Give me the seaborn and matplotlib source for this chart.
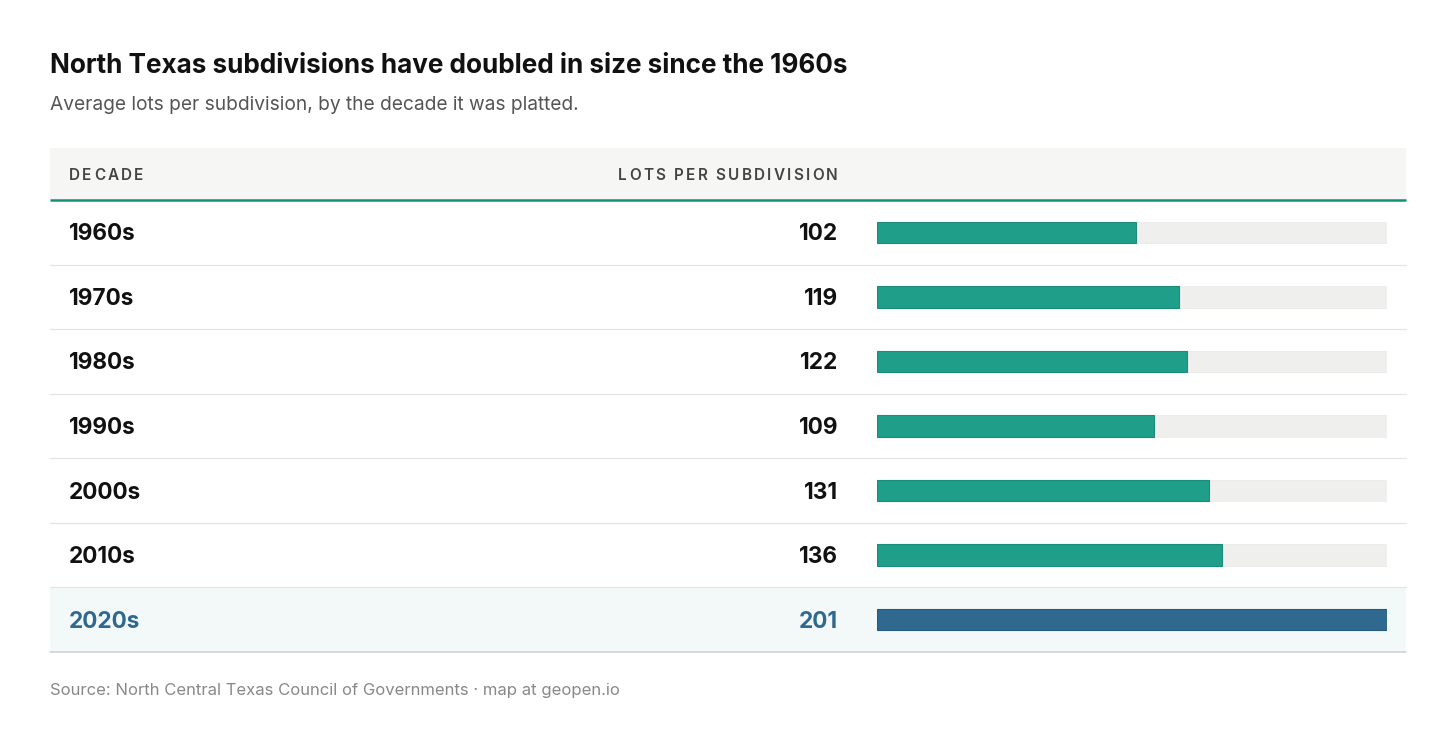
import matplotlib
matplotlib.use("Agg")
import matplotlib.pyplot as plt
import seaborn as sns
import pandas as pd
from matplotlib.patches import Rectangle
from matplotlib.font_manager import FontProperties

# Data
decades = ["1960s", "1970s", "1980s", "1990s", "2000s", "2010s", "2020s"]
lots = [102, 119, 122, 109, 131, 136, 201]
highlight = "2020s"

title = "North Texas subdivisions have doubled in size since the 1960s"
subtitle = "Average lots per subdivision, by the decade it was platted."
source = "Source: North Central Texas Council of Governments \u00b7 map at geopen.io"
col_headers = ["DECADE", "LOTS PER SUBDIVISION"]

# Colours
teal = "#1f9e89"
teal_edge = "#1a8c79"
blue = "#30698f"
blue_edge = "#245a7e"
track = "#efefed"

sns.set_style("white")
plt.rcParams["font.family"] = ["Inter", "DejaVu Sans"]

W, H = 1456, 738
fig = plt.figure(figsize=(W / 100, H / 100), dpi=100)
fig.patch.set_facecolor("white")

# background axes in pixel coordinates
bg = fig.add_axes([0, 0, 1, 1])
bg.set_xlim(0, W)
bg.set_ylim(H, 0)
bg.axis("off")

left, right = 50, 1406
head_top, head_bot = 148, 200
table_bot = 652
row_h = (table_bot - head_bot) / len(decades)

# header band
bg.add_patch(Rectangle((left, head_top), right - left, head_bot - head_top,
                       facecolor="#f6f6f4", edgecolor="none", zorder=0))
bg.plot([left, right], [head_bot, head_bot], color="#12917a", lw=1.8,
        solid_capstyle="butt", zorder=3)

# highlighted row background
hi = decades.index(highlight)
bg.add_patch(Rectangle((left, head_bot + hi * row_h), right - left, row_h,
                       facecolor="#f3f9f8", edgecolor="none", zorder=0))

# row separators
for i in range(1, len(decades)):
    y = head_bot + i * row_h
    bg.plot([left, right], [y, y], color="#e4e4e4", lw=0.9, zorder=2)
bg.plot([left, right], [table_bot, table_bot], color="#d2d4d4", lw=1.2, zorder=2)


def spaced(ax, x, y, s, spacing, ha="left", **kw):
    # draw letter-spaced text one character at a time
    renderer = fig.canvas.get_renderer()
    fp = FontProperties(family=plt.rcParams["font.family"], size=kw.get("fontsize"),
                        weight=kw.get("fontweight"))
    wa, _, _ = renderer.get_text_width_height_descent("aa", fp, ismath=False)
    widths = []
    for ch in s:
        if ch == " ":
            w, _, _ = renderer.get_text_width_height_descent("a a", fp, ismath=False)
            w -= wa
        else:
            w, _, _ = renderer.get_text_width_height_descent(ch, fp, ismath=False)
        widths.append(w)
    total = sum(widths) + spacing * (len(s) - 1)
    cx = x if ha == "left" else x - total
    for ch, w in zip(s, widths):
        ax.text(cx, y, ch, ha="left", va="center", **kw)
        cx += w + spacing


spaced(bg, 69, 175, col_headers[0], 2.3, ha="left", fontsize=11,
       fontweight="semibold", color="#444444")
spaced(bg, 838, 175, col_headers[1], 2.3, ha="right", fontsize=11,
       fontweight="semibold", color="#444444")

# titles
bg.text(50, 66, title, fontsize=18.8, fontweight="bold", color="#111111",
        va="center", ha="left")
bg.text(50, 105, subtitle, fontsize=13.8, color="#555555", va="center", ha="left")
bg.text(50, 690, source, fontsize=12, color="#888888", va="center", ha="left")

# row texts
for i, (d, v) in enumerate(zip(decades, lots)):
    yc = head_bot + (i + 0.5) * row_h + 2
    c = blue if d == highlight else "#111111"
    bg.text(69, yc, d, fontsize=16.3, fontweight="bold", color=c, va="center", ha="left")
    bg.text(838, yc, f"{v}", fontsize=16.3, fontweight="bold", color=c, va="center", ha="right")

# bar axes
bx0, bx1 = 877, 1387
bax = fig.add_axes([bx0 / W, 1 - table_bot / H, (bx1 - bx0) / W, (table_bot - head_bot) / H])
bax.patch.set_alpha(0)
vmax = max(lots)
df = pd.DataFrame({"decade": decades, "lots": lots, "track": [vmax] * len(decades)})

sns.barplot(data=df, x="track", y="decade", order=decades, color=track,
            orient="h", width=0.33, ax=bax, edgecolor="#ebebe9", linewidth=0.6,
            saturation=1)
palette = {d: (blue if d == highlight else teal) for d in decades}
sns.barplot(data=df, x="lots", y="decade", hue="decade", order=decades,
            palette=palette, orient="h", width=0.33, ax=bax, legend=False,
            saturation=1, linewidth=0.8)
for p, d in zip(bax.patches[len(decades):], decades):
    p.set_edgecolor(blue_edge if d == highlight else teal_edge)

bax.set_xlim(0, vmax)
bax.set_ylim(len(decades) - 0.5, -0.5)
bax.axis("off")

fig.savefig("out.png", dpi=100, facecolor="white")
